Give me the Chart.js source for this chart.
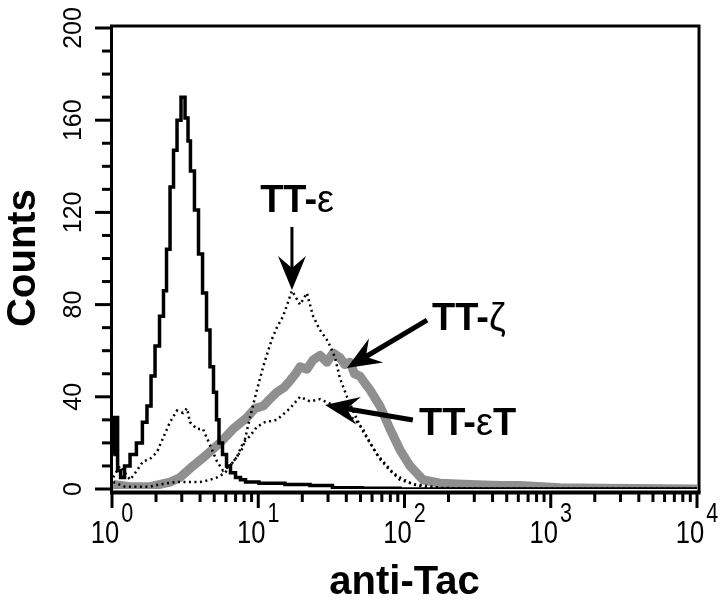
<!DOCTYPE html>
<html>
<head>
<meta charset="utf-8">
<script src="https://cdn.jsdelivr.net/npm/chart.js@4"></script>
<style>
  body { margin: 0; background: #fff; }
</style>
</head>
<body>
<canvas id="chart" width="720" height="600"></canvas>
<script>
// control (solid, stepped)
let controlX = [1.02,1.065,1.12,1.17,1.27,1.39,1.55,1.68,1.79,1.91,2.03,2.20,2.30,2.42,2.57,2.70,2.87,3.06,3.26,3.36,3.52,3.81,4.00,4.33,4.53,4.83,5.06,5.31,5.47,5.93,6.21,6.72,7.27,7.87,8.51,12.0,19.3,26.4,39.2,68,128,10000]
let controlY = [15,31,8,5,10,15,20,29,36,49,62,75,86,104,131,147,160,170,161,151,138,121,102,85,69,53,42,30,20,15,10,7,5,4,3,2.5,2,1.5,0.5,0.3,0,0]

// TT-epsilon (dotted, high peak)
let epsX = [1.02,1.23,1.82,2.13,2.70,3.41,4.00,4.68,5.22,5.93,6.41,7.16,7.87,8.78,9.80,10.8,11.7,12.4,13.4,14.8,17.0,19.3,21.5,23.7,26.4,30.0,33.5,36.2,40.4,45.9,52.0,58.1,68.0,79.6,93.1,118,175,328,10000]
let epsY = [3,1,1,2,3,3,3,4,5,7,10,14,18,31,43,53,60,65,70,75,86,80,85,75,69,64,57,48,40,32,25,20,13,8,4,2,0.5,0,0]

// TT-epsilonT (dotted, low)
let epsTX = [1.02,1.13,1.33,1.48,1.63,1.82,2.03,2.23,2.49,2.78,3.06,3.26,3.41,3.81,4.19,4.68,5.22,5.74,6.41,7.16,7.87,8.78,9.80,11.1,13.4,16.5,19.3,22.6,26.4,31.0,39.2,45.9,52.0,58.1,64.9,73.6,83.4,93.1,114,149,239,10000]
let epsTY = [5,10,4,8,12,13,16,22,29,34,33,35,29,26,26,19,12,8,10,14,20,23,27,29,30,35,40,38,39,37,33,30,26,20,15,11,7,5,2,0.5,0,0]

// TT-zeta (thick grey)
let zetaX = [1.02,1.33,1.82,2.13,2.49,2.92,3.58,4.46,5.47,6.72,8.38,9.5,10.8,12.0,13.4,15.0,16.5,18.0,19.3,21.5,23.7,26.5,29.5,32.5,36.2,39.0,42.4,45.5,49.6,53.5,58.1,68.0,79.6,93.1,109,134,175,281,450,617,1157,2173,10000]
let zetaY = [2,1,1,2,3,5,10,15,20,26,31,35,36,39,42,44,47,50,53,52,56,58,55,59,57,54,55,50,49,46,43,36,26,17,10,4,2.5,2,1.5,1.5,0.5,0.3,0]

// axis ticks
let yMajor = [0,40,80,120,160,200]
let yMinor = [10,20,30,50,60,70,90,100,110,130,140,150,170,180,190]
let xMajor = [1,10,100,1000,10000]
let xExp = ['0','1','2','3','4']
let xMinorMult = [2,3,4,5,6,7,8,9]

// labels with arrows, in data coordinates
let notes = [
  {parts: [['TT-', true], ['ε', false]], at: [10.3, 120], tail: [17.0, 113.7], tip: [17.0, 86.3], w: 3},
  {parts: [['TT-', true], ['ζ', false]], at: [154, 69], tail: [142.6, 73.3], tip: [40.4, 52.5], w: 5},
  {parts: [['TT-', true], ['ε', false], ['T', true]], at: [125.6, 23.4], tail: [114, 29.9], tip: [28.6, 36.4], w: 5}
]

function pts(xs, ys) {
  return xs.map((v, i) => ({x: v, y: ys[i]}))
}

function arrow(ctx, x1, y1, x2, y2, w) {
  let dx = x2 - x1, dy = y2 - y1
  let len = Math.hypot(dx, dy)
  let ux = dx / len, uy = dy / len
  let nx = -uy, ny = ux
  let L = 34, H = 14
  ctx.lineWidth = w
  ctx.beginPath()
  ctx.moveTo(x1, y1)
  ctx.lineTo(x2 - ux * L * 0.6, y2 - uy * L * 0.6)
  ctx.stroke()
  ctx.beginPath()
  ctx.moveTo(x2, y2)
  ctx.lineTo(x2 - ux * L + nx * H, y2 - uy * L + ny * H)
  ctx.lineTo(x2 - ux * L * 0.65, y2 - uy * L * 0.65)
  ctx.lineTo(x2 - ux * L - nx * H, y2 - uy * L - ny * H)
  ctx.closePath()
  ctx.fill()
}

const SANS = '"Liberation Sans", Arial, sans-serif'
const SQUEEZE = 0.8

const figure = {
  id: 'figure',
  afterDraw(chart) {
    const ctx = chart.ctx
    const a = chart.chartArea
    const x = chart.scales.x, y = chart.scales.y
    ctx.save()
    ctx.strokeStyle = '#000'
    ctx.fillStyle = '#000'
    ctx.lineCap = 'butt'

    // frame
    ctx.lineWidth = 3
    ctx.beginPath()
    ctx.moveTo(a.left - 0.5, a.bottom + 4)
    ctx.lineTo(a.left - 0.5, a.top - 2)
    ctx.lineTo(a.right + 2, a.top - 2)
    ctx.lineTo(a.right + 2, a.bottom + 4)
    ctx.stroke()
    ctx.lineWidth = 4
    ctx.beginPath()
    ctx.moveTo(a.left - 2, a.bottom + 3.5)
    ctx.lineTo(a.right + 3.5, a.bottom + 3.5)
    ctx.stroke()

    // y ticks
    ctx.lineWidth = 3
    yMajor.forEach(v => {
      let p = y.getPixelForValue(v)
      ctx.beginPath(); ctx.moveTo(a.left - 17, p); ctx.lineTo(a.left, p); ctx.stroke()
    })
    yMinor.forEach(v => {
      let p = y.getPixelForValue(v)
      ctx.beginPath(); ctx.moveTo(a.left - 10, p); ctx.lineTo(a.left, p); ctx.stroke()
    })
    // y labels
    ctx.font = '25px ' + SANS
    ctx.textAlign = 'center'
    ctx.textBaseline = 'alphabetic'
    yMajor.forEach(v => {
      let p = y.getPixelForValue(v)
      ctx.save()
      ctx.translate(81, p)
      ctx.rotate(-Math.PI / 2)
      ctx.fillText(String(v), 0, 0)
      ctx.restore()
    })

    // x ticks
    let base = a.bottom + 5
    xMajor.forEach((v, i) => {
      let p = x.getPixelForValue(v)
      ctx.beginPath(); ctx.moveTo(p, base); ctx.lineTo(p, base + 14); ctx.stroke()
      if (i < xMajor.length - 1) {
        xMinorMult.forEach(m => {
          let q = x.getPixelForValue(v * m)
          ctx.beginPath(); ctx.moveTo(q, base); ctx.lineTo(q, base + 8); ctx.stroke()
        })
      }
    })
    // x labels 10^n, condensed
    ctx.textAlign = 'left'
    xMajor.forEach((v, i) => {
      let p = x.getPixelForValue(v)
      ctx.font = '32px ' + SANS
      let w1 = ctx.measureText('10').width * SQUEEZE
      ctx.font = '27px ' + SANS
      let w2 = ctx.measureText(xExp[i]).width * SQUEEZE
      let start = p - (w1 + w2 + 2) / 2
      ctx.save()
      ctx.translate(start, 0)
      ctx.scale(SQUEEZE, 1)
      ctx.font = '32px ' + SANS
      ctx.fillText('10', 0, 543)
      ctx.font = '27px ' + SANS
      ctx.fillText(xExp[i], (w1 + 2) / SQUEEZE, 522)
      ctx.restore()
    })

    // axis titles
    ctx.font = 'bold 40px ' + SANS
    ctx.textAlign = 'center'
    ctx.fillText('anti-Tac', (a.left + a.right) / 2, 594)
    ctx.save()
    ctx.translate(35, 258)
    ctx.rotate(-Math.PI / 2)
    ctx.fillText('Counts', 0, 0)
    ctx.restore()

    // annotations
    ctx.textAlign = 'left'
    notes.forEach(n => {
      let tx = x.getPixelForValue(n.at[0]), ty = y.getPixelForValue(n.at[1])
      n.parts.forEach(([s, bold]) => {
        ctx.font = (bold ? 'bold ' : '') + '38px ' + SANS
        ctx.fillText(s, tx, ty)
        tx += ctx.measureText(s).width
      })
      arrow(ctx, x.getPixelForValue(n.tail[0]), y.getPixelForValue(n.tail[1]),
        x.getPixelForValue(n.tip[0]), y.getPixelForValue(n.tip[1]), n.w)
    })
    ctx.restore()
  }
}

let chart = new Chart(document.getElementById('chart'), {
  type: 'line',
  data: {
    datasets: [
      {label: 'control', data: pts(controlX, controlY), borderColor: '#000', borderWidth: 3.5, stepped: 'middle', pointRadius: 0},
      {label: 'TT-ε', data: pts(epsX, epsY), borderColor: '#000', borderWidth: 2.5, borderDash: [2, 3.5], pointRadius: 0},
      {label: 'TT-εT', data: pts(epsTX, epsTY), borderColor: '#000', borderWidth: 2.5, borderDash: [2, 3.5], pointRadius: 0},
      {label: 'TT-ζ', data: pts(zetaX, zetaY), borderColor: '#8f8f8f', borderWidth: 9, borderJoinStyle: 'round', pointRadius: 0}
    ]
  },
  options: {
    responsive: false,
    animation: false,
    layout: {padding: {left: 112, right: 23, top: 28, bottom: 111}},
    scales: {
      x: {type: 'logarithmic', min: 1, max: 10000, display: false},
      y: {type: 'linear', min: 0, max: 200, display: false}
    },
    plugins: {legend: {display: false}, tooltip: {enabled: false}}
  },
  plugins: [figure]
})
</script>
</body>
</html>
